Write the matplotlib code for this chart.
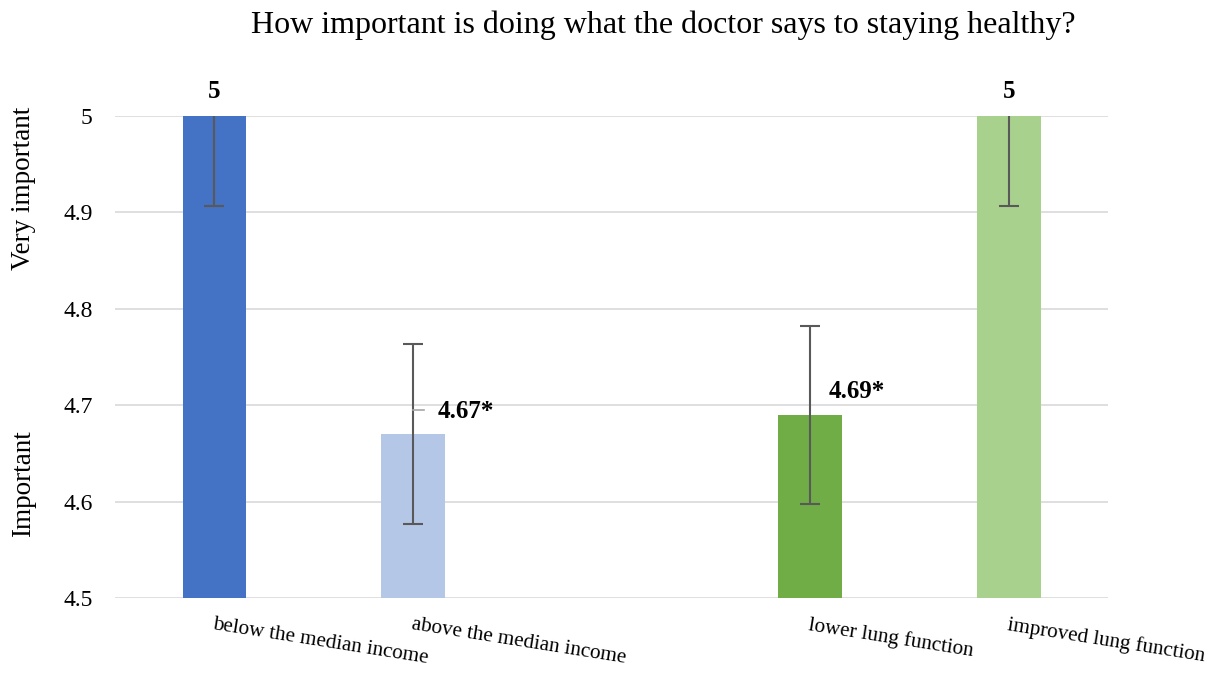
import matplotlib
matplotlib.use("Agg")
import matplotlib.pyplot as plt

title = "How important is doing what the doctor says to staying healthy?"
categories = ["below the median income", "above the median income", "",
              "lower lung function", "improved lung function"]
values = [5.0, 4.67, None, 4.69, 5.0]
errors = [0.093, 0.093, None, 0.092, 0.093]
labels = ["5", "4.67*", None, "4.69*", "5"]
colors = ["#4472C4", "#B4C7E7", None, "#70AD47", "#A9D18E"]
yticks = [4.5, 4.6, 4.7, 4.8, 4.9, 5.0]

plt.rcParams['font.family'] = ['Liberation Serif', 'DejaVu Serif']

fig = plt.figure(figsize=(12.17, 6.73), dpi=100)
ax = fig.add_axes([0.0945, 0.1114, 0.816, 0.7162])

xs = list(range(len(categories)))
for x, v, e, c in zip(xs, values, errors, colors):
    if v is None:
        continue
    ax.bar(x, v - 4.5, bottom=4.5, width=0.32, color=c, zorder=2)
    ax.errorbar(x, v, yerr=e, fmt='none', ecolor='#595959', elinewidth=1.5,
                capsize=7, capthick=1.5, zorder=3)

ax.set_xlim(-0.5, len(categories) - 0.5)
ax.set_ylim(4.5, 5.0)
ax.set_yticks(yticks)
ax.set_yticklabels([f"{t:g}" for t in yticks], fontsize=17, color='#000000')
ax.yaxis.grid(True, color='#d9d9d9', linewidth=1.2, zorder=0)
ax.set_axisbelow(True)
for s in ax.spines.values():
    s.set_visible(False)
ax.tick_params(axis='y', length=0, pad=16)
ax.tick_params(axis='x', length=0)
ax.set_xticks([])

# x category labels, slanted
for x, cat in zip(xs, categories):
    if not cat:
        continue
    ax.text(x, 4.5 - 0.018, cat, rotation=-9, rotation_mode='anchor',
            ha='left', va='top', fontsize=15.2, color='#000000',
            transform=ax.transData, clip_on=False)

# data labels
for x, v, lab in zip(xs, values, labels):
    if lab is None:
        continue
    if v >= 5.0:
        ax.text(x, v + 0.014, lab, ha='center', va='bottom', fontsize=18,
                fontweight='bold', clip_on=False)
    elif x == 1:
        ax.plot([x, x + 0.055], [4.695, 4.695], color='#a6a6a6', lw=1.2, zorder=3)
        ax.text(x + 0.125, 4.693, lab, ha='left', va='center', fontsize=18,
                fontweight='bold')
    else:
        ax.text(x + 0.095, 4.714, lab, ha='left', va='center', fontsize=18,
                fontweight='bold')

fig.text(0.545, 0.962, title, ha='center', va='center', fontsize=23)
fig.text(0.019, 0.72, "Very important", rotation=90, ha='center', va='center', fontsize=19.5)
fig.text(0.019, 0.282, "Important", rotation=90, ha='center', va='center', fontsize=19.5)

fig.savefig("out.png", dpi=100)
